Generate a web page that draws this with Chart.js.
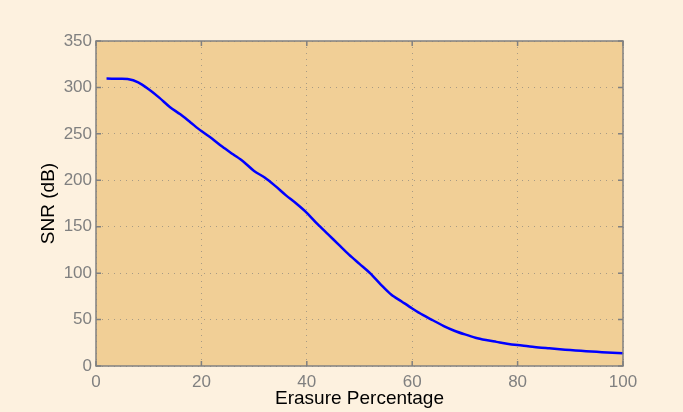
<!DOCTYPE html>
<html>
<head>
<meta charset="utf-8">
<script src="https://cdn.jsdelivr.net/npm/chart.js@4"></script>
<style>
  html, body { margin: 0; padding: 0; background: #fdf1df; }
  #wrap { width: 683px; height: 412px; }
</style>
</head>
<body>
<div id="wrap"><canvas id="snrChart" width="683" height="412"></canvas></div>
<script>
// erasure percentage (x) and SNR in dB (y)
const erasure = [2, 4, 6, 8, 10, 12, 14, 16, 18, 20, 22, 24, 26, 28, 30, 32, 34, 36, 38, 40,
  42, 44, 46, 48, 50, 52, 54, 56, 58, 60, 62, 64, 66, 68, 70, 72, 74, 76, 78, 80,
  82, 84, 86, 88, 90, 92, 94, 96, 98, 100];
const snr = [309.5, 309.3, 309, 305.5, 298, 289, 279, 271, 262, 253, 245, 236, 228, 220, 210, 203, 194, 184, 175, 165,
  153, 142, 131, 120, 110, 100, 88, 77, 69.5, 62, 55, 49, 43, 38, 34, 30.5, 28, 26, 24, 22.5,
  21.3, 20, 19, 18, 17.2, 16.4, 15.6, 14.9, 14.3, 13.7];
const xTicks = [0, 20, 40, 60, 80, 100];
const yTicks = [0, 50, 100, 150, 200, 250, 300, 350];

const axisGray = "#808080";
const fontFam = "Liberation Sans, Arial, Helvetica, sans-serif";

// matlab style frame: plot background, box and inward ticks
const matlabBox = {
  id: "matlabBox",
  beforeDraw(chart) {
    const { ctx, chartArea: a } = chart;
    ctx.save();
    ctx.fillStyle = "#fdf1df";
    ctx.fillRect(0, 0, chart.width, chart.height);
    ctx.fillStyle = "#f1cf96";
    ctx.fillRect(a.left, a.top, a.right - a.left, a.bottom - a.top);
    ctx.restore();
  },
  afterDatasetsDraw(chart) {
    const { ctx, chartArea: a, scales } = chart;
    const len = 5;
    ctx.save();
    ctx.strokeStyle = axisGray;
    ctx.lineWidth = 1.5;
    ctx.strokeRect(a.left, a.top, a.right - a.left, a.bottom - a.top);
    ctx.beginPath();
    xTicks.forEach(v => {
      const px = scales.x.getPixelForValue(v);
      ctx.moveTo(px, a.bottom); ctx.lineTo(px, a.bottom - len);
      ctx.moveTo(px, a.top); ctx.lineTo(px, a.top + len);
    });
    yTicks.forEach(v => {
      const py = scales.y.getPixelForValue(v);
      ctx.moveTo(a.left, py); ctx.lineTo(a.left + len, py);
      ctx.moveTo(a.right, py); ctx.lineTo(a.right - len, py);
    });
    ctx.stroke();
    ctx.restore();
  }
};

new Chart(document.getElementById("snrChart"), {
  type: "line",
  data: {
    datasets: [{
      data: erasure.map((x, i) => ({ x: x, y: snr[i] })),
      borderColor: "#0000ff",
      borderWidth: 2.5,
      pointRadius: 0,
      fill: false,
      tension: 0.3
    }]
  },
  options: {
    responsive: false,
    animation: false,
    layout: { padding: { top: 41, right: 60, left: 0, bottom: 0 } },
    plugins: { legend: { display: false }, tooltip: { enabled: false } },
    scales: {
      x: {
        type: "linear",
        min: 0, max: 100,
        afterFit: s => { s.height = 46; },
        afterBuildTicks: s => { s.ticks = xTicks.map(v => ({ value: v })); },
        grid: { color: "rgba(120,120,120,0.6)", lineWidth: 1, drawTicks: false },
        border: { display: false, dash: [1, 5] },
        ticks: { color: axisGray, font: { family: fontFam, size: 17 }, padding: 6, maxRotation: 0 },
        title: {
          display: true, text: "Erasure Percentage", color: "#000",
          font: { family: fontFam, size: 19 },
          padding: { top: 0, bottom: 2 }
        }
      },
      y: {
        type: "linear",
        min: 0, max: 350,
        afterFit: s => { s.width = 96; },
        afterBuildTicks: s => { s.ticks = yTicks.map(v => ({ value: v })); },
        grid: { color: "rgba(120,120,120,0.6)", lineWidth: 1, drawTicks: false },
        border: { display: false, dash: [1, 5] },
        ticks: { color: axisGray, font: { family: fontFam, size: 17 }, padding: 4 },
        title: {
          display: true, text: "SNR (dB)", color: "#000",
          font: { family: fontFam, size: 19 },
          padding: { top: 37, bottom: 0 }
        }
      }
    }
  },
  plugins: [matlabBox]
});
</script>
</body>
</html>
